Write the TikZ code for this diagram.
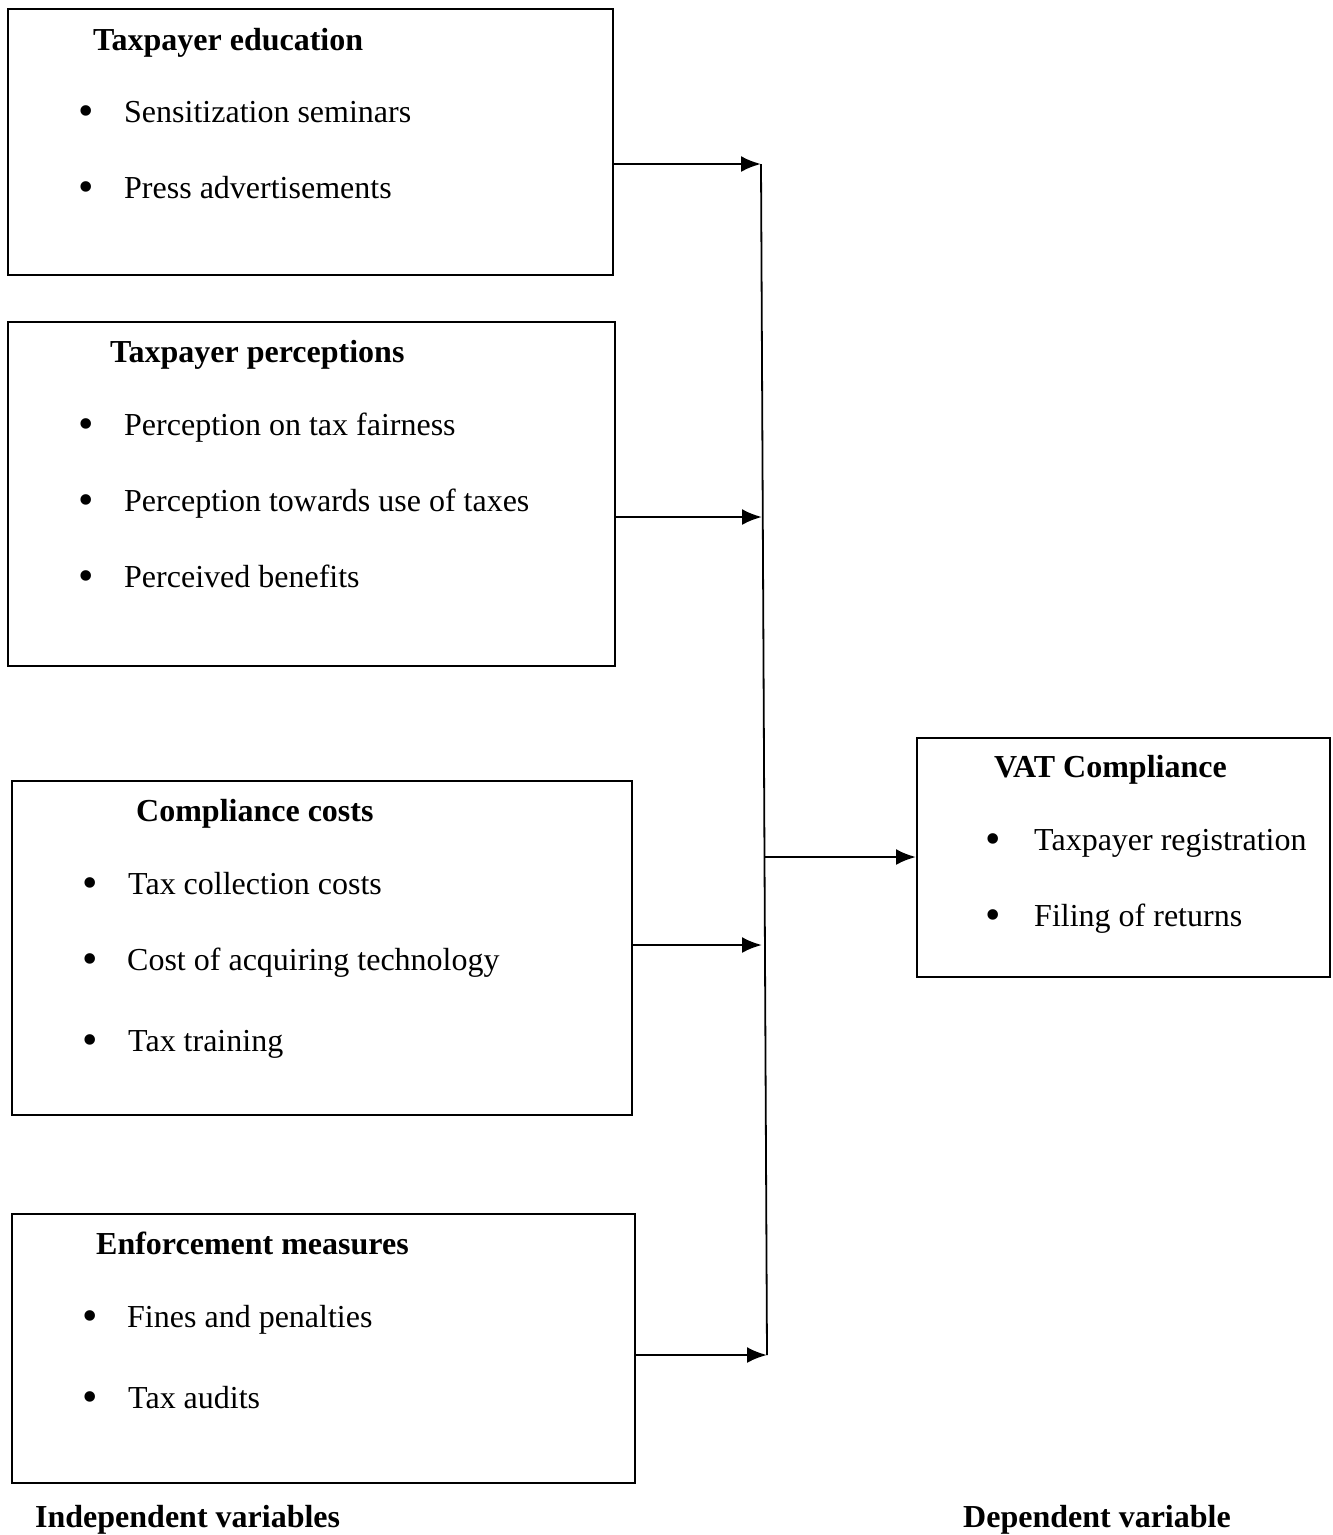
\documentclass[tikz,border=0pt]{standalone}
\usepackage{fontspec}
\setmainfont{Liberation Serif}
\usepackage{tikz}
\usetikzlibrary{calc,arrows.meta}
\tikzset{>={Latex[length=20pt,width=16pt]}}
\tikzset{
  box/.style={draw, line width=1.8pt, inner sep=0pt, anchor=north west},
  head/.style={anchor=base west, inner sep=0pt, font=\fontsize{32}{38}\selectfont\bfseries},
  item/.style={anchor=base west, inner sep=0pt, font=\fontsize{32}{38}\selectfont},
  dot/.style={anchor=base, inner sep=0pt, font=\fontsize{44}{50}\selectfont},
  arr/.style={->, line width=2.6pt}
}

\begin{document}
\begin{tikzpicture}[x=1pt, y=-1pt]
    \useasboundingbox (0,0) rectangle (1333,1535);
    % boxes
    \node[box, minimum width=605pt, minimum height=266pt] (edu) at (7,8) {};
    \node[box, minimum width=607pt, minimum height=344pt] (perc) at (7,321) {};
    \node[box, minimum width=620pt, minimum height=334pt] (cost) at (11,780) {};
    \node[box, minimum width=623pt, minimum height=269pt] (enf) at (11,1213) {};
    \node[box, minimum width=413pt, minimum height=239pt] (vat) at (916,737) {};
    % taxpayer education
    \node[head] (eduT) at (93,50) {Taxpayer education};
    \node[dot] (eduB1) at (86,125) {•};
    \node[item] (eduI1) at (124,122) {Sensitization seminars};
    \node[dot] (eduB2) at (86,201) {•};
    \node[item] (eduI2) at (124,198) {Press advertisements};
    % taxpayer perceptions
    \node[head] (percT) at (110,362) {Taxpayer perceptions};
    \node[dot] (percB1) at (86,438) {•};
    \node[item] (percI1) at (124,435) {Perception on tax fairness};
    \node[dot] (percB2) at (86,514) {•};
    \node[item] (percI2) at (124,511) {Perception towards use of taxes};
    \node[dot] (percB3) at (86,590) {•};
    \node[item] (percI3) at (124,587) {Perceived benefits};
    % compliance costs
    \node[head] (costT) at (136,821) {Compliance costs};
    \node[dot] (costB1) at (90,897) {•};
    \node[item] (costI1) at (128,894) {Tax collection costs};
    \node[dot] (costB2) at (90,973) {•};
    \node[item] (costI2) at (127,970) {Cost of acquiring technology};
    \node[dot] (costB3) at (90,1054) {•};
    \node[item] (costI3) at (128,1051) {Tax training};
    % enforcement measures
    \node[head] (enfT) at (96,1254) {Enforcement measures};
    \node[dot] (enfB1) at (90,1330) {•};
    \node[item] (enfI1) at (127,1327) {Fines and penalties};
    \node[dot] (enfB2) at (90,1411) {•};
    \node[item] (enfI2) at (128,1408) {Tax audits};
    % VAT compliance
    \node[head] (vatT) at (994,777) {VAT Compliance};
    \node[dot] (vatB1) at (993,853) {•};
    \node[item] (vatI1) at (1034,850) {Taxpayer registration};
    \node[dot] (vatB2) at (993,929) {•};
    \node[item] (vatI2) at (1034,926) {Filing of returns};
    % captions
    \node[head] (indep) at (35,1527) {Independent variables};
    \node[head] (dep) at (963,1527) {Dependent variable};
    % spine
    \coordinate (s1) at (761,164);
    \coordinate (s2) at (762,517);
    \coordinate (s3) at (762,945);
    \coordinate (s4) at (767,1355);
    \coordinate (s5) at (765,857);
    \draw[line width=1.8pt] (s1) -- (s4);
    \draw[arr] (s1 -| edu.east) -- (s1);
    \draw[arr] (s2 -| perc.east) -- (s2);
    \draw[arr] (s3 -| cost.east) -- (s3);
    \draw[arr] (s4 -| enf.east) -- (s4);
    \draw[arr] (s5) -- (s5 -| vat.west);
\end{tikzpicture}
\end{document}
